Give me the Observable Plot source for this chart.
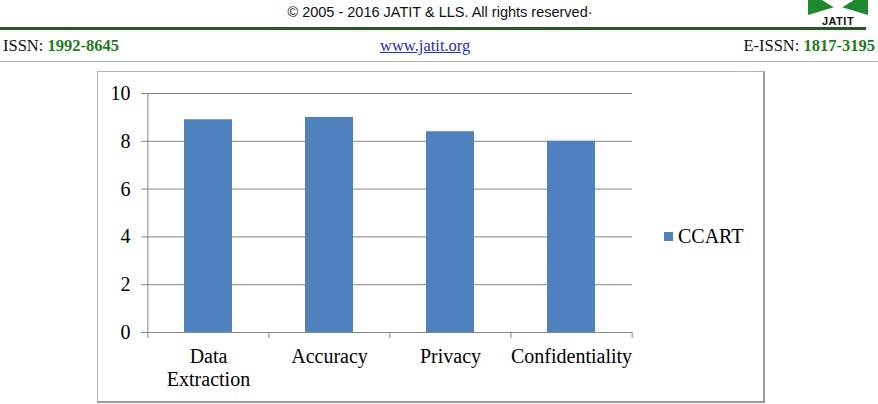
<!DOCTYPE html>
<html>
<head>
<meta charset="utf-8">
<script src="https://cdn.jsdelivr.net/npm/d3@7"></script>
<script src="https://cdn.jsdelivr.net/npm/@observablehq/plot@0.6"></script>
<style>
  html, body { margin: 0; padding: 0; background: #fff; }
  #page { position: relative; width: 878px; height: 404px; overflow: hidden; font-family: "Liberation Serif", serif; }
  .abs { position: absolute; white-space: nowrap; }
  #copy { left: 0; width: 880px; top: 4px; text-align: center; font-family: "Liberation Sans", Arial, sans-serif; font-size: 14.5px; color: #111; }
  #gline { left: 0; top: 27px; width: 866px; height: 3px; background: #1f5a1f; }
  #lline { left: 0; top: 61px; width: 878px; height: 1px; background: #a9b8a9; }
  #issn { left: 3px; top: 36px; font-size: 16.5px; color: #111; }
  #eissn { right: 3px; top: 36px; font-size: 16.5px; color: #111; }
  .g { color: #1e7a1e; font-weight: bold; }
  #www { left: 380px; top: 36px; font-size: 16.5px; color: #2b2bb8; text-decoration: underline; }
  #box { left: 97px; top: 71px; width: 665px; height: 329px; border-top: 1px solid #b5b5b5; border-left: 1px solid #b5b5b5; border-right: 2px solid #9a9a9a; border-bottom: 2px solid #9a9a9a; }
  #chart { left: 97px; top: 71px; }
  #legend { left: 664px; top: 225px; font-size: 20px; color: #000; display: flex; align-items: center; }
  #legend .sw { width: 9px; height: 9px; margin-right: 5px; }
  #logo { left: 800px; top: 0px; }
</style>
</head>
<body>
<div id="page">
  <div id="copy" class="abs">© 2005 - 2016 JATIT &amp; LLS. All rights reserved·</div>
  <div id="gline" class="abs"></div>
  <div id="logo" class="abs">
    <svg width="75" height="27" viewBox="0 0 75 27">
      <polygon points="8,0 68,0 68,15 38,6 8,15" fill="#1e8a2e"/>
      <polygon points="22,0 54,0 38,10" fill="#ffffff"/>
      <text x="38" y="25" text-anchor="middle" font-family="Liberation Sans, Arial" font-weight="bold" font-size="11" letter-spacing="0.5" fill="#111">JATIT</text>
    </svg>
  </div>
  <div id="issn" class="abs">ISSN: <span class="g">1992-8645</span></div>
  <div id="www" class="abs">www.jatit.org</div>
  <div id="eissn" class="abs">E-ISSN: <span class="g">1817-3195</span></div>
  <div id="lline" class="abs"></div>
  <div id="box" class="abs"></div>
  <div id="chart" class="abs"></div>
  <div id="legend" class="abs"><div class="sw"></div><span id="legtext"></span></div>
</div>
<script>
const categories = ["Data\nExtraction", "Accuracy", "Privacy", "Confidentiality"];
const ccartValues = [8.9, 9.0, 8.4, 8.0];
const yTicks = [0, 2, 4, 6, 8, 10];
const seriesName = "CCART";
const barColor = "#4f81bd";
const gridColor = "#868686";

const data = categories.map((c, i) => ({category: c, value: ccartValues[i]}));

const W = 667, H = 331, ML = 50, MR = 132, MT = 22, MB = 70;
const step = (W - ML - MR) / categories.length;

const chart = Plot.plot({
  width: W,
  height: H,
  marginLeft: ML,
  marginRight: MR,
  marginTop: MT,
  marginBottom: MB,
  style: {fontFamily: "Liberation Serif, serif", fontSize: "20px", color: "#000", background: "transparent", overflow: "visible"},
  x: {domain: categories, paddingInner: 0.6, paddingOuter: 0.3, label: null},
  y: {domain: [0, 10], label: null},
  marks: [
    Plot.ruleY(yTicks, {y: d => d, stroke: gridColor, strokeWidth: 1, insetLeft: -6}),
    Plot.barY(data, {x: "category", y: "value", fill: barColor}),
    Plot.ruleX([categories[0]], {x: d => d, y1: 0, y2: 10, dx: -step / 2, stroke: gridColor}),
    Plot.ruleX(categories, {x: d => d, y1: 0, y2: 0, insetBottom: -6, dx: -step / 2, stroke: gridColor}),
    Plot.ruleX([categories[categories.length - 1]], {x: d => d, y1: 0, y2: 0, insetBottom: -6, dx: step / 2, stroke: gridColor}),
    Plot.axisY(yTicks, {tickSize: 0, tickPadding: 17, fontSize: 20, fill: "#000"}),
    Plot.axisX({tickSize: 0, tickPadding: 14, fontSize: 20, fill: "#000", lineHeight: 1.15})
  ]
});
document.getElementById("chart").appendChild(chart);
document.querySelector("#legend .sw").style.background = barColor;
document.getElementById("legtext").textContent = seriesName;
</script>
</body>
</html>
